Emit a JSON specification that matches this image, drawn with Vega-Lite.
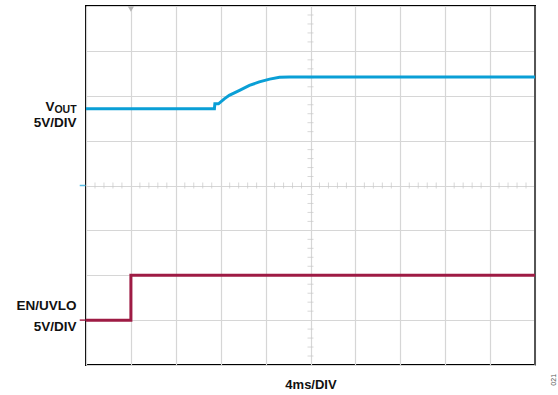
{
  "$schema": "https://vega.github.io/schema/vega-lite/v6.json",
  "width": 449,
  "height": 359,
  "autosize": {"type": "none"},
  "padding": {"left": 86, "top": 6, "right": 23, "bottom": 30},
  "background": "white",
  "config": {
    "view": {"stroke": "#000", "strokeWidth": 2},
    "font": "Liberation Sans"
  },
  "datasets": {
    "vout": [
      {"t": 0, "v": 5.71}, {"t": 2.86, "v": 5.71}, {"t": 2.87, "v": 5.82}, {"t": 2.95, "v": 5.82},
      {"t": 3.08, "v": 5.93}, {"t": 3.19, "v": 6.01}, {"t": 3.42, "v": 6.12}, {"t": 3.64, "v": 6.23}, {"t": 3.86, "v": 6.31},
      {"t": 4.09, "v": 6.37}, {"t": 4.31, "v": 6.41}, {"t": 4.53, "v": 6.42}, {"t": 10, "v": 6.42}
    ],
    "en": [
      {"t": 0, "v": 1.0}, {"t": 1.0, "v": 2.0}, {"t": 10, "v": 2.0}
    ],
    "hticks": [
      {"x": 0.2}, {"x": 0.4}, {"x": 0.6}, {"x": 0.8}, {"x": 1.2}, {"x": 1.4}, {"x": 1.6}, {"x": 1.8},
      {"x": 2.2}, {"x": 2.4}, {"x": 2.6}, {"x": 2.8}, {"x": 3.2}, {"x": 3.4}, {"x": 3.6}, {"x": 3.8},
      {"x": 4.2}, {"x": 4.4}, {"x": 4.6}, {"x": 4.8}, {"x": 5.2}, {"x": 5.4}, {"x": 5.6}, {"x": 5.8},
      {"x": 6.2}, {"x": 6.4}, {"x": 6.6}, {"x": 6.8}, {"x": 7.2}, {"x": 7.4}, {"x": 7.6}, {"x": 7.8},
      {"x": 8.2}, {"x": 8.4}, {"x": 8.6}, {"x": 8.8}, {"x": 9.2}, {"x": 9.4}, {"x": 9.6}, {"x": 9.8}
    ],
    "vticks": [
      {"y": 0.2}, {"y": 0.4}, {"y": 0.6}, {"y": 0.8}, {"y": 1.2}, {"y": 1.4}, {"y": 1.6}, {"y": 1.8},
      {"y": 2.2}, {"y": 2.4}, {"y": 2.6}, {"y": 2.8}, {"y": 3.2}, {"y": 3.4}, {"y": 3.6}, {"y": 3.8},
      {"y": 4.2}, {"y": 4.4}, {"y": 4.6}, {"y": 4.8}, {"y": 5.2}, {"y": 5.4}, {"y": 5.6}, {"y": 5.8},
      {"y": 6.2}, {"y": 6.4}, {"y": 6.6}, {"y": 6.8}, {"y": 7.2}, {"y": 7.4}, {"y": 7.6}, {"y": 7.8}
    ],
    "labels": [
      {"y": 5.3, "text": "5V/DIV"},
      {"y": 1.22, "text": "EN/UVLO"},
      {"y": 0.76, "text": "5V/DIV"}
    ],
    "vlabel": [{"y": 5.67, "text": "V"}],
    "sublabel": [{"y": 5.62, "text": "OUT"}],
    "markers": [
      {"y": 4, "c": "blue"},
      {"y": 1, "c": "red"}
    ]
  },
  "layer": [
    {
      "data": {"name": "hticks"},
      "mark": {"type": "tick", "orient": "vertical", "size": 6, "thickness": 1, "color": "#c8c8c8"},
      "encoding": {
        "x": {
          "field": "x", "type": "quantitative",
          "scale": {"domain": [0, 10], "nice": false, "zero": false},
          "axis": {
            "values": [0, 1, 2, 3, 4, 5, 6, 7, 8, 9, 10],
            "grid": true, "gridColor": "#d6d6d6", "gridWidth": 1.2,
            "labels": false, "ticks": false, "domain": false,
            "title": "4ms/DIV", "titleFont": "Liberation Sans", "titleFontSize": 13,
            "titleFontWeight": "bold", "titleColor": "#111", "titlePadding": 13
          }
        },
        "y": {
          "datum": 4, "type": "quantitative",
          "scale": {"domain": [0, 8], "nice": false, "zero": false},
          "axis": {
            "values": [0, 1, 2, 3, 4, 5, 6, 7, 8],
            "grid": true, "gridColor": "#d6d6d6", "gridWidth": 1.2,
            "labels": false, "ticks": false, "domain": false, "title": null
          }
        }
      }
    },
    {
      "data": {"name": "vticks"},
      "mark": {"type": "tick", "orient": "horizontal", "size": 6, "thickness": 1, "color": "#c8c8c8"},
      "encoding": {
        "x": {"datum": 5, "type": "quantitative"},
        "y": {"field": "y", "type": "quantitative"}
      }
    },
    {
      "data": {"values": [{"x": 10}]},
      "mark": {"type": "rule", "color": "#555", "strokeWidth": 2},
      "encoding": {"x": {"field": "x", "type": "quantitative"}}
    },
    {
      "data": {"values": [{"x": 1, "y": 8}]},
      "mark": {"type": "point", "shape": "triangle-down", "filled": true, "size": 40, "color": "#b5b5b5", "opacity": 1},
      "encoding": {
        "x": {"field": "x", "type": "quantitative"},
        "y": {"field": "y", "type": "quantitative"},
        "yOffset": {"value": 3}
      }
    },
    {
      "data": {"name": "markers"},
      "mark": {"type": "rule", "strokeWidth": 1.5},
      "encoding": {
        "x": {"datum": -0.14, "type": "quantitative"},
        "x2": {"datum": -0.01},
        "y": {"field": "y", "type": "quantitative"},
        "color": {"field": "c", "type": "nominal", "scale": {"domain": ["blue", "red"], "range": ["#5bbfe6", "#a8294f"]}, "legend": null}
      }
    },
    {
      "data": {"name": "vout"},
      "mark": {"type": "line", "color": "#0a9fd6", "strokeWidth": 3},
      "encoding": {
        "x": {"field": "t", "type": "quantitative"},
        "y": {"field": "v", "type": "quantitative"}
      }
    },
    {
      "data": {"name": "en"},
      "mark": {"type": "line", "color": "#9e1b44", "strokeWidth": 3, "interpolate": "step-after"},
      "encoding": {
        "x": {"field": "t", "type": "quantitative"},
        "y": {"field": "v", "type": "quantitative"}
      }
    },
    {
      "data": {"name": "labels"},
      "mark": {"type": "text", "align": "right", "baseline": "alphabetic", "font": "Liberation Sans", "fontSize": 13.5, "fontWeight": "bold", "color": "#111"},
      "encoding": {
        "x": {"datum": -0.21, "type": "quantitative"},
        "y": {"field": "y", "type": "quantitative"},
        "text": {"field": "text"}
      }
    },
    {
      "data": {"name": "vlabel"},
      "mark": {"type": "text", "align": "right", "baseline": "alphabetic", "font": "Liberation Sans", "fontSize": 13.5, "fontWeight": "bold", "color": "#111"},
      "encoding": {
        "x": {"datum": -0.7, "type": "quantitative"},
        "y": {"field": "y", "type": "quantitative"},
        "text": {"field": "text"}
      }
    },
    {
      "data": {"name": "sublabel"},
      "mark": {"type": "text", "align": "right", "baseline": "alphabetic", "font": "Liberation Sans", "fontSize": 10.5, "fontWeight": "bold", "color": "#111"},
      "encoding": {
        "x": {"datum": -0.21, "type": "quantitative"},
        "y": {"field": "y", "type": "quantitative"},
        "text": {"field": "text"}
      }
    },
    {
      "data": {"values": [{"text": "021"}]},
      "mark": {"type": "text", "angle": 270, "align": "center", "baseline": "middle", "font": "Liberation Sans", "fontSize": 7, "color": "#555"},
      "encoding": {
        "x": {"datum": 10.43, "type": "quantitative"},
        "y": {"datum": -0.33, "type": "quantitative"},
        "text": {"field": "text"}
      }
    }
  ]
}
